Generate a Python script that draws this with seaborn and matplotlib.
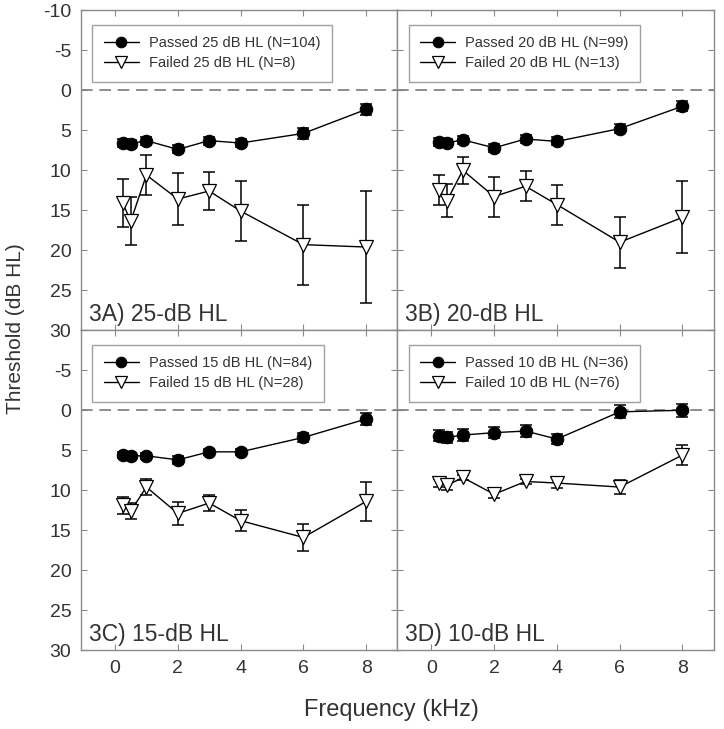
import numpy as np
import pandas as pd
import matplotlib
matplotlib.use("Agg")
import matplotlib.pyplot as plt
import seaborn as sns

# frequencias (kHz)
freqs = [0.25, 0.5, 1, 2, 3, 4, 6, 8]

# painel 3A) 25-dB HL
passed_a = [6.6, 6.7, 6.3, 7.4, 6.3, 6.6, 5.4, 2.4]
passed_a_err = [0.5, 0.5, 0.5, 0.5, 0.5, 0.5, 0.7, 0.7]
failed_a = [14.1, 16.4, 10.6, 13.6, 12.6, 15.1, 19.3, 19.6]
failed_a_err = [3.0, 3.0, 2.5, 3.3, 2.4, 3.7, 5.0, 7.0]

# painel 3B) 20-dB HL
passed_b = [6.5, 6.6, 6.2, 7.2, 6.1, 6.4, 4.8, 2.0]
passed_b_err = [0.5, 0.5, 0.5, 0.5, 0.5, 0.5, 0.6, 0.6]
failed_b = [12.5, 13.8, 10.0, 13.3, 12.0, 14.3, 19.0, 15.9]
failed_b_err = [1.9, 2.1, 1.7, 2.5, 1.9, 2.5, 3.2, 4.5]

# painel 3C) 15-dB HL
passed_c = [5.6, 5.7, 5.7, 6.2, 5.2, 5.2, 3.4, 1.1]
passed_c_err = [0.4, 0.4, 0.4, 0.5, 0.4, 0.4, 0.6, 0.7]
failed_c = [11.9, 12.6, 9.6, 12.9, 11.6, 13.8, 15.9, 11.4]
failed_c_err = [1.1, 1.0, 1.0, 1.4, 1.0, 1.3, 1.7, 2.4]

# painel 3D) 10-dB HL
passed_d = [3.2, 3.4, 3.1, 2.8, 2.6, 3.6, 0.2, 0.0]
passed_d_err = [0.7, 0.7, 0.7, 0.7, 0.8, 0.6, 0.8, 0.8]
failed_d = [9.1, 9.4, 8.4, 10.5, 8.9, 9.1, 9.6, 5.6]
failed_d_err = [0.55, 0.6, 0.35, 0.5, 0.35, 0.6, 0.9, 1.3]

panel_labels = ["3A) 25-dB HL", "3B) 20-dB HL", "3C) 15-dB HL", "3D) 10-dB HL"]
passed_labels = ["Passed 25 dB HL (N=104)", "Passed 20 dB HL (N=99)",
                 "Passed 15 dB HL (N=84)", "Passed 10 dB HL (N=36)"]
failed_labels = ["Failed 25 dB HL (N=8)", "Failed 20 dB HL (N=13)",
                 "Failed 15 dB HL (N=28)", "Failed 10 dB HL (N=76)"]
y_ticks = [-10, -5, 0, 5, 10, 15, 20, 25, 30]
x_ticks = [0, 2, 4, 6, 8]

paineis = [
    (passed_a, passed_a_err, failed_a, failed_a_err),
    (passed_b, passed_b_err, failed_b, failed_b_err),
    (passed_c, passed_c_err, failed_c, failed_c_err),
    (passed_d, passed_d_err, failed_d, failed_d_err),
]

sns.set_theme(style="white")
plt.rcParams["font.family"] = ["Liberation Sans", "DejaVu Sans"]
cor_texto = "#333333"
cor_borda = "#8a8a8a"

fig, axes = plt.subplots(2, 2, figsize=(7.24, 7.29), dpi=100)
fig.subplots_adjust(left=0.112, right=0.986, top=0.986, bottom=0.108, wspace=0, hspace=0)

for i, ax in enumerate(axes.flat):
    p, pe, f, fe = paineis[i]
    df = pd.DataFrame({"freq": freqs, "passed": p, "failed": f})

    # linha de referencia em 0 dB
    ax.axhline(0, color="#7a7a7a", lw=1.2, ls=(0, (7, 4)), zorder=1)

    # barras de erro
    ax.errorbar(freqs, p, yerr=pe, fmt="none", ecolor="black", elinewidth=1.1,
                capsize=4, capthick=1.1, zorder=2)
    ax.errorbar(freqs, f, yerr=fe, fmt="none", ecolor="black", elinewidth=1.1,
                capsize=4, capthick=1.1, zorder=2)

    sns.lineplot(data=df, x="freq", y="passed", ax=ax, color="black", lw=1,
                 marker="o", markersize=9, markerfacecolor="black",
                 markeredgecolor="black", label=passed_labels[i], zorder=3)
    sns.lineplot(data=df, x="freq", y="failed", ax=ax, color="black", lw=1,
                 marker="v", markersize=10, markerfacecolor="white",
                 markeredgecolor="black", markeredgewidth=0.9,
                 label=failed_labels[i], zorder=3)

    leg = ax.legend(loc="upper left", bbox_to_anchor=(0.035, 0.955), borderaxespad=0,
                    fontsize=10.5, frameon=True, fancybox=False, markerscale=0.85,
                    handlelength=2.4, handletextpad=0.7, borderpad=0.8,
                    labelspacing=0.4, edgecolor=cor_borda)
    leg.get_frame().set_linewidth(1)
    for t in leg.get_texts():
        t.set_color(cor_texto)

    ax.text(0.025, 0.028, panel_labels[i], transform=ax.transAxes, fontsize=16.5,
            color=cor_texto, ha="left", va="baseline")

    ax.set_xlim(-1.08, 9.0)
    ax.set_ylim(30, -10)
    ax.set_xticks(x_ticks)
    ax.set_yticks(y_ticks)
    ax.set_xlabel("")
    ax.set_ylabel("")
    ax.tick_params(direction="in", length=4, width=0.8, color=cor_borda,
                   top=True, right=True, bottom=True, left=True,
                   labelsize=14, labelcolor=cor_texto, pad=7)
    for s in ax.spines.values():
        s.set_color(cor_borda)
        s.set_linewidth(1)

    linha, coluna = divmod(i, 2)
    if coluna == 0:
        rotulos = [str(v) for v in y_ticks]
        if linha == 1:
            rotulos[0] = ""  # o -10 de baixo ficaria por cima do 30
        ax.set_yticklabels(rotulos)
    else:
        ax.set_yticklabels([])
    if linha == 0:
        ax.set_xticklabels([])
    else:
        ax.set_xticklabels([str(v) for v in x_ticks])

fig.text(0.54, 0.026, "Frequency (kHz)", ha="center", va="center", fontsize=17, color=cor_texto)
fig.text(0.022, 0.549, "Threshold (dB HL)", ha="center", va="center", rotation=90,
         fontsize=15, color=cor_texto)

plt.savefig("out.png", dpi=100)
plt.close()
